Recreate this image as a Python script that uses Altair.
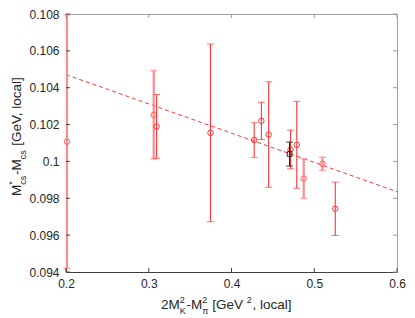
import altair as alt
import pandas as pd

# ---------------- data ----------------
x_light = [0.2012, 0.3060, 0.4873, 0.5099]
y_light = [0.10107, 0.10253, 0.09907, 0.09987]
e_light = [0.00688, 0.00240, 0.00108, 0.00036]

x_dark = [0.3095, 0.3746, 0.4274, 0.4361, 0.4449, 0.4714, 0.4789, 0.5254]
y_dark = [0.10190, 0.10155, 0.10116, 0.10220, 0.10146, 0.10065, 0.10090, 0.09743]
e_dark = [0.00173, 0.00482, 0.00094, 0.00101, 0.00286, 0.00105, 0.00236, 0.00145]

x_black = [0.4702]
y_black = [0.10040]
e_black = [0.00065]

fit_x = [0.2, 0.6]
fit_y = [0.10471, 0.09836]

x_ticks = [0.2, 0.3, 0.4, 0.5, 0.6]
y_ticks = [0.094, 0.096, 0.098, 0.1, 0.102, 0.104, 0.106, 0.108]

# ---------------- styling ----------------
W, H = 331, 258
FONT = "Liberation Sans"
LIGHT = "#ff8c8c"
DARK = "#ff3535"
AXC = "#404040"
TXT = "#262626"

xs = alt.Scale(domain=[0.2, 0.6], nice=False, zero=False)
ys = alt.Scale(domain=[0.094, 0.108], nice=False, zero=False)
XAX = alt.Axis(values=x_ticks, format="~g", ticks=False, grid=False, title=None,
               domainColor=AXC, labelColor=TXT, labelFontSize=12, labelFont=FONT,
               labelPadding=6, labelFlush=False, labelOverlap=False)
YAX = alt.Axis(values=y_ticks, format="~g", ticks=False, grid=False, title=None,
               domainColor=AXC, labelColor=TXT, labelFontSize=12, labelFont=FONT,
               labelPadding=7, labelFlush=False, labelOverlap=False)


def frame(xv, yv, ev):
    return pd.DataFrame({"x": xv, "y": yv,
                         "lo": [a - b for a, b in zip(yv, ev)],
                         "hi": [a + b for a, b in zip(yv, ev)]})


def group(df, color, width, cap_th, circ_color, shape="circle", msize=30):
    base = alt.Chart(df)
    rule = base.mark_rule(color=color, strokeWidth=width).encode(
        x=alt.X("x:Q", scale=xs, axis=XAX),
        y=alt.Y("lo:Q", scale=ys, axis=YAX), y2="hi:Q")
    caps = base.transform_fold(["lo", "hi"]).mark_tick(
        orient="horizontal", color=color, thickness=cap_th, size=7).encode(
        x=alt.X("x:Q", scale=xs, axis=XAX),
        y=alt.Y("value:Q", scale=ys, axis=YAX))
    pts = base.mark_point(shape=shape, filled=False, size=msize,
                          color=circ_color, strokeWidth=1, opacity=1).encode(
        x=alt.X("x:Q", scale=xs, axis=XAX),
        y=alt.Y("y:Q", scale=ys, axis=YAX))
    return [rule, caps, pts]


layers = []

fit = alt.Chart(pd.DataFrame({"x": fit_x, "y": fit_y})).mark_line(
    color=DARK, strokeDash=[4, 3], strokeWidth=1).encode(
    x=alt.X("x:Q", scale=xs, axis=XAX), y=alt.Y("y:Q", scale=ys, axis=YAX))
layers.append(fit)

layers += group(frame(x_light, y_light, e_light), LIGHT, 2.2, 1.5, "#ff6060")
layers += group(frame(x_dark, y_dark, e_dark), DARK, 1.1, 1.0, DARK)
layers += group(frame(x_black, y_black, e_black), "#222222", 1.2, 1.2, "#222222",
                shape="square", msize=22)

# inward tick marks on all four sides
xt = alt.Chart(pd.DataFrame({"v": x_ticks}))
yt = alt.Chart(pd.DataFrame({"v": y_ticks}))
layers.append(xt.mark_rule(color=AXC, strokeWidth=1).encode(
    x=alt.X("v:Q", scale=xs, axis=XAX), y=alt.value(H), y2=alt.value(H - 4)))
layers.append(xt.mark_rule(color="#999999", strokeWidth=1).encode(
    x=alt.X("v:Q", scale=xs, axis=XAX), y=alt.value(0), y2=alt.value(4)))
layers.append(yt.mark_rule(color=AXC, strokeWidth=1).encode(
    y=alt.Y("v:Q", scale=ys, axis=YAX), x=alt.value(0), x2=alt.value(4)))
layers.append(yt.mark_rule(color="#999999", strokeWidth=1).encode(
    y=alt.Y("v:Q", scale=ys, axis=YAX), x=alt.value(W), x2=alt.value(W - 4)))

# ---------------- titles with sub/superscripts ----------------
CW = {"2": .556, "M": .833, "-": .333, " ": .278, "[": .278, "G": .778, "e": .556,
      "V": .667, ",": .278, "l": .222, "o": .556, "c": .5, "a": .556, "]": .278,
      "K": .667, "π": .6, "*": .389, "s": .5}


def tw(s, size):
    return sum(CW.get(ch, .556) for ch in s) * size


BIG, SMALL = 13.5, 9
SUP, SUB = -6, 5

x_title = [
    [("2M", BIG, 0)],
    [("2", SMALL, SUP), ("K", SMALL, SUB)],
    [("-M", BIG, 0)],
    [("2", SMALL, SUP), ("π", SMALL, SUB)],
    [("", BIG, 0, 3.7)],
    [("[GeV", BIG, 0)],
    [("", BIG, 0, 3.7)],
    [("2", SMALL, SUP)],
    [(", local]", BIG, 0)],
]
y_title = [
    [("M", BIG, 0)],
    [("*", SMALL, SUP), ("cs", SMALL, SUB)],
    [("-M", BIG, 0)],
    [("cs", SMALL, SUB)],
    [("", BIG, 0, 3.7)],
    [("[GeV, local]", BIG, 0)],
]

one = pd.DataFrame({"a": [0]})


def text_layers(segs, start, base, rotate):
    out = []
    cur = 0.0
    for seg in segs:
        adv = 0.0
        for item in seg:
            t, sz, sh = item[0], item[1], item[2]
            if len(item) > 3:
                adv = max(adv, item[3])
                continue
            adv = max(adv, tw(t, sz) + (0.8 if sz == SMALL else 0))
            if rotate:
                px, py, ang = base + sh, start - cur, 270
            else:
                px, py, ang = start + cur, base + sh, 0
            out.append(alt.Chart(one).mark_text(
                align="left", baseline="alphabetic", angle=ang, font=FONT,
                fontSize=sz, color=TXT).encode(
                x=alt.value(px), y=alt.value(py), text=alt.value(t)))
        cur += adv
    return out


layers += text_layers(x_title, 95, 295, False)
layers += text_layers(y_title, 182, -45, True)

chart = alt.layer(*layers).properties(
    width=W, height=H,
    autosize=alt.AutoSizeParams(type="none"),
    padding={"left": 58, "top": 6, "right": 10, "bottom": 44},
).configure(font=FONT).configure_view(stroke="#a0a0a0", strokeWidth=1)

chart.save("out.html", embed_options={"renderer": "svg", "actions": False})
